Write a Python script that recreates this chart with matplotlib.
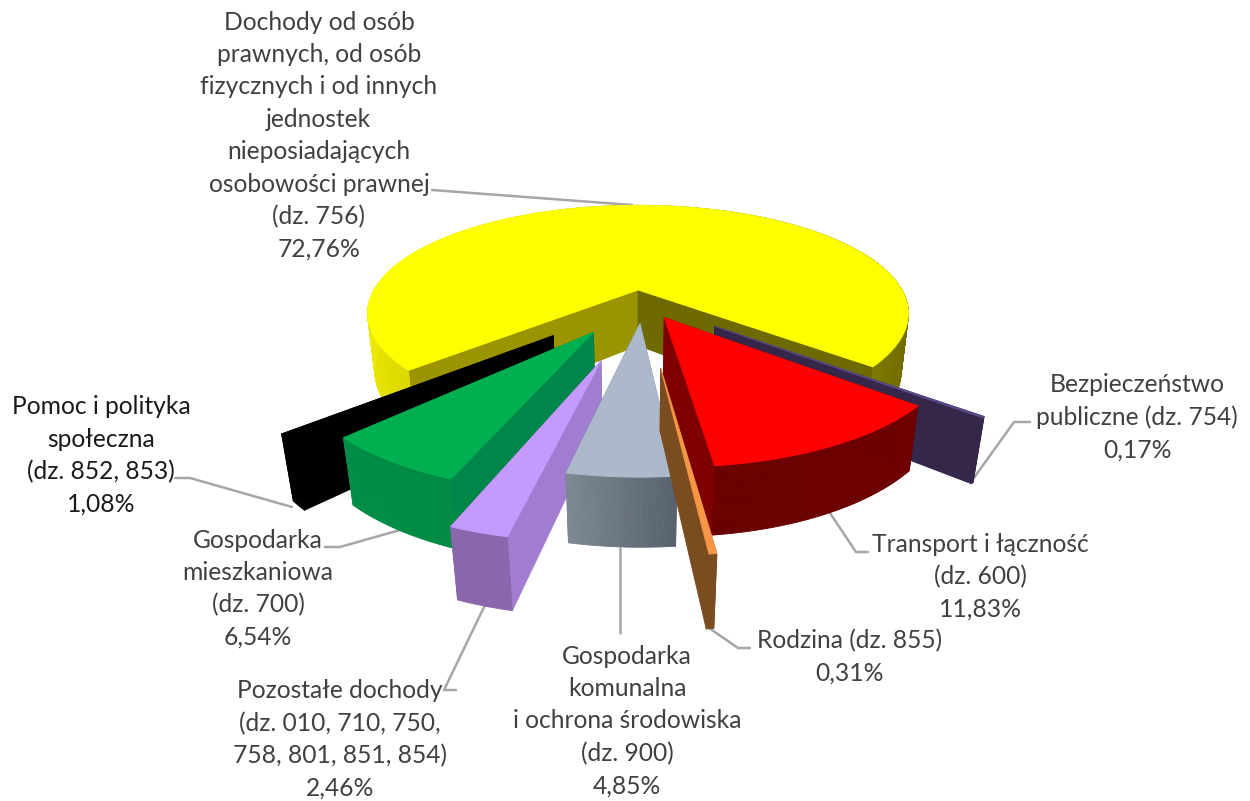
import numpy as np
import matplotlib
matplotlib.use("Agg")
import matplotlib.pyplot as plt
from matplotlib.colors import to_rgb

# udzial dzialow w dochodach, %
names = ["Dochody", "Bezpieczenstwo", "Transport", "Rodzina", "Gospodarka komunalna",
         "Pozostale", "Gospodarka mieszkaniowa", "Pomoc"]
values = [72.76, 0.17, 11.83, 0.31, 4.85, 2.46, 6.54, 1.08]
label_lines = [
    ["Dochody od osób", "prawnych, od osób", "fizycznych i od innych", "jednostek",
     "nieposiadających", "osobowości prawnej", "(dz. 756)", "72,76%"],
    ["Bezpieczeństwo", "publiczne (dz. 754)", "0,17%"],
    ["Transport i łączność", "(dz. 600)", "11,83%"],
    ["Rodzina (dz. 855)", "0,31%"],
    ["Gospodarka", "komunalna", "i ochrona środowiska", "(dz. 900)", "4,85%"],
    ["Pozostałe dochody", "(dz. 010, 710, 750,", "758, 801, 851, 854)", "2,46%"],
    ["Gospodarka", "mieszkaniowa", "(dz. 700)", "6,54%"],
    ["Pomoc i polityka", "społeczna", "(dz. 852, 853)", "1,08%"],
]

# styl
label_x = [319, 1137, 980, 850, 627, 340, 258, 101]
label_y = [22, 385, 544, 641, 656, 691, 540, 407]
label_colors = ["#404040"] * 7 + ["#1a1a1a"]
leaders = [
    [(432, 190), (632, 205)],
    [(1030, 422), (1014, 422), (971, 482)],
    [(868, 552), (856, 552), (830, 513)],
    [(750, 648), (738, 648), (709, 628)],
    [(620, 633), (620, 548)],
    [(456, 690), (444, 690), (485, 605)],
    [(325, 547), (340, 547), (400, 530)],
    [(175, 478), (190, 478), (292, 507)],
]
shift_u = [0.0, 0.27, 0.094, 0.074, 0.007, -0.122, -0.155, -0.293]
shift_v = [0.0, 0.328, 0.254, 0.655, 0.305, 0.60, 0.378, 0.405]
top_colors = ["#FFFF00", "#5B4A8A", "#FF0000", "#F79646", "#ACB9CA", "#C49AFF", "#00B050", "#000000"]
wall_hi = ["#9A9400", "#35274A", "#6A0000", "#7F4F20", "#6A7480", "#A27CD0", "#00864A", "#000000"]
wall_lo = ["#6E6A00", "#35274A", "#7E0000", "#7A4C1F", "#6A7480", "#8A66AC", "#00864A", "#000000"]
outer_start = ["#6E6A00", "#35274A", "#6E0000", "#7A4C1F", "#57626E", "#8A66AC", "#008A42", "#000000"]
outer_end = ["#ECE800", "#35274A", "#6A0000", "#7A4C1F", "#7E8893", "#8A66AC", "#008E48", "#000000"]
draw_order = [0, 7, 1, 6, 2, 5, 4, 3]

# rzut perspektywiczny
cx, cy = 638, 290
rx, ry = 264, 103
persp = 0.216
depth = 0.026
height = 57
right_edge = 50.0


def project(u, v, z=0.0):
    w = 1 - persp * v + depth * z
    return cx + rx * u / w, cy + (ry * v + height * z) / w


def quad(ax, pts, color, zorder):
    xs, ys = zip(*pts)
    ax.fill(xs, ys, facecolor=color, edgecolor=color, linewidth=0.6, zorder=zorder, joinstyle="round")


def draw_slice(ax, a_hi, a_lo, i, zorder):
    su, sv = shift_u[i], shift_v[i]
    ang = np.radians(np.linspace(a_hi, a_lo, max(int((a_hi - a_lo) * 2), 2) + 1))
    us = su + np.sin(ang)
    vs = sv + np.cos(ang)

    def wall(u, v, color):
        quad(ax, [project(su, sv), project(u, v), project(u, v, 1), project(su, sv, 1)], color, zorder)

    mid = (a_hi + a_lo) / 2
    if i == 0 or mid > 0:
        wall(us[0], vs[0], wall_hi[i])
        wall(us[-1], vs[-1], wall_lo[i])
    else:
        wall(us[-1], vs[-1], wall_lo[i])
        wall(us[0], vs[0], wall_hi[i])

    c0 = np.array(to_rgb(outer_start[i]))
    c1 = np.array(to_rgb(outer_end[i]))
    n = len(us) - 1
    for j in range(n):
        if i == 0:
            # lewa i prawa strona sciany, tyl i tak zakrywa gora
            t = 0.5 - 0.5 * np.sin(ang[j])
        else:
            t = j / max(n - 1, 1)
        quad(ax, [project(us[j], vs[j]), project(us[j + 1], vs[j + 1]),
                  project(us[j + 1], vs[j + 1], 1), project(us[j], vs[j], 1)],
             c0 + (c1 - c0) * t, zorder)

    top = [project(su, sv)] + [project(u, v) for u, v in zip(us, vs)]
    quad(ax, top, top_colors[i], zorder)


def main():
    plt.rcParams["font.family"] = ["Lato", "DejaVu Sans"]
    fig = plt.figure(figsize=(12.5, 8.01), dpi=100)
    ax = fig.add_axes([0, 0, 1, 1])
    ax.set_xlim(0, 1250)
    ax.set_ylim(801, 0)
    ax.axis("off")

    spans = [v / sum(values) * 360 for v in values]
    # katy liczone od dolu; plasterki ida od prawej krawedzi zoltego w lewo
    limits = {}
    a = right_edge
    for i in range(1, len(values)):
        limits[i] = (a, a - spans[i])
        a -= spans[i]
    limits[0] = (a, a - spans[0])

    for z, i in enumerate(draw_order):
        draw_slice(ax, limits[i][0], limits[i][1], i, 2 + z)

    for line in leaders:
        xs, ys = zip(*line)
        ax.plot(xs, ys, color="#A6A6A6", linewidth=1.8, zorder=1, solid_capstyle="round")

    pitch = 32.4
    for lines, x, y, col in zip(label_lines, label_x, label_y, label_colors):
        for k, txt in enumerate(lines):
            ax.text(x, y + k * pitch, txt, ha="center", va="center", fontsize=17.7, color=col, zorder=20)

    fig.savefig("out.png", dpi=100)
    plt.close(fig)


if __name__ == "__main__":
    main()
